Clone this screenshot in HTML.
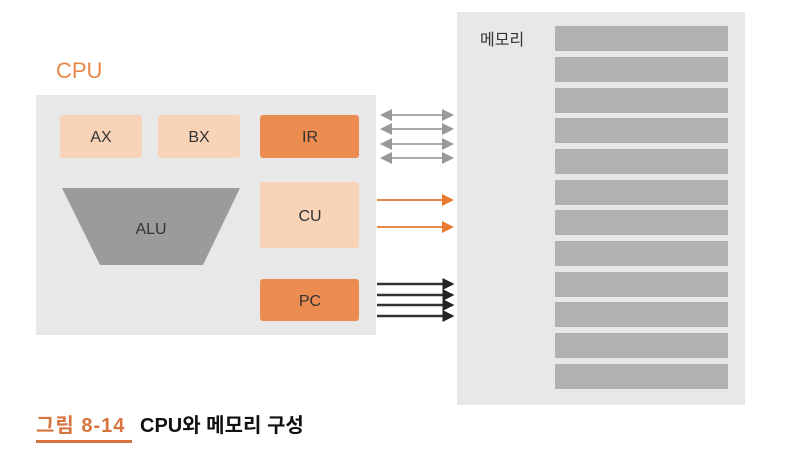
<!DOCTYPE html>
<html><head><meta charset="utf-8"><style>
body{margin:0;width:798px;height:464px;background:#fff;overflow:hidden;font-family:"Liberation Sans","Noto Sans CJK KR",sans-serif}
</style></head><body>
<svg width="798" height="464" xmlns="http://www.w3.org/2000/svg" style="position:absolute;left:0;top:0">
<defs>
<marker id="g" markerWidth="6" markerHeight="6" refX="5" refY="3" orient="auto-start-reverse" markerUnits="strokeWidth"><path d="M0,0L6,3L0,6z" fill="#999"/></marker>
<marker id="o" markerWidth="6" markerHeight="6" refX="5" refY="3" orient="auto" markerUnits="strokeWidth"><path d="M0,0L6,3L0,6z" fill="#e87a35"/></marker>
<marker id="k" markerWidth="5" markerHeight="5" refX="4" refY="2.5" orient="auto" markerUnits="strokeWidth"><path d="M0,0L5,2.5L0,5z" fill="#222"/></marker>
</defs>
<rect x="457" y="12" width="288" height="393" fill="#e8e8e9"/>
<text x="480" y="45" font-size="16" fill="#333">메모리</text>
<g fill="#b1b1b3">
<rect x="555" y="26" width="173" height="25"/><rect x="555" y="57" width="173" height="25"/><rect x="555" y="88" width="173" height="25"/><rect x="555" y="118" width="173" height="25"/><rect x="555" y="149" width="173" height="25"/><rect x="555" y="180" width="173" height="25"/><rect x="555" y="210" width="173" height="25"/><rect x="555" y="241" width="173" height="25"/><rect x="555" y="272" width="173" height="25"/><rect x="555" y="302" width="173" height="25"/><rect x="555" y="333" width="173" height="25"/><rect x="555" y="364" width="173" height="25"/>
</g>
<text x="56" y="78" font-size="22" fill="#e8874a">CPU</text>
<rect x="36" y="95" width="340" height="240" fill="#e8e8e9"/>
<rect x="60" y="115" width="82" height="43" rx="3" fill="#f9d3b8"/>
<rect x="158" y="115" width="82" height="43" rx="3" fill="#f9d3b8"/>
<rect x="260" y="115" width="99" height="43" rx="3" fill="#ec8c51"/>
<rect x="260" y="182" width="99" height="66" rx="3" fill="#f9d3b8"/>
<rect x="260" y="279" width="99" height="42" rx="3" fill="#ec8c51"/>
<polygon points="62,188 240,188 203,265 100,265" fill="#9b9b9e"/>
<g font-size="16" fill="#333" text-anchor="middle">
<text x="101" y="142">AX</text><text x="199" y="142">BX</text><text x="310" y="142">IR</text><text x="310" y="221">CU</text><text x="310" y="306">PC</text><text x="151" y="234">ALU</text>
</g>
<g stroke="#aaa" stroke-width="2" marker-start="url(#g)" marker-end="url(#g)">
<line x1="382" y1="115" x2="452" y2="115"/><line x1="382" y1="129" x2="452" y2="129"/><line x1="382" y1="144" x2="452" y2="144"/><line x1="382" y1="158" x2="452" y2="158"/>
</g>
<g stroke="#e8874a" stroke-width="2" marker-end="url(#o)">
<line x1="377" y1="200" x2="452" y2="200"/><line x1="377" y1="227" x2="452" y2="227"/>
</g>
<g stroke="#333" stroke-width="2.4" marker-end="url(#k)">
<line x1="377" y1="284" x2="452" y2="284"/><line x1="377" y1="295" x2="452" y2="295"/><line x1="377" y1="305" x2="452" y2="305"/><line x1="377" y1="316" x2="452" y2="316"/>
</g>
<text x="36" y="432" font-size="20" font-weight="bold" fill="#d8743f" letter-spacing="1">그림 8-14</text>
<rect x="36" y="440" width="96" height="3" fill="#d8743f"/>
<text x="140" y="432" font-size="20" font-weight="bold" fill="#111">CPU와 메모리 구성</text>
</svg>
</body></html>
